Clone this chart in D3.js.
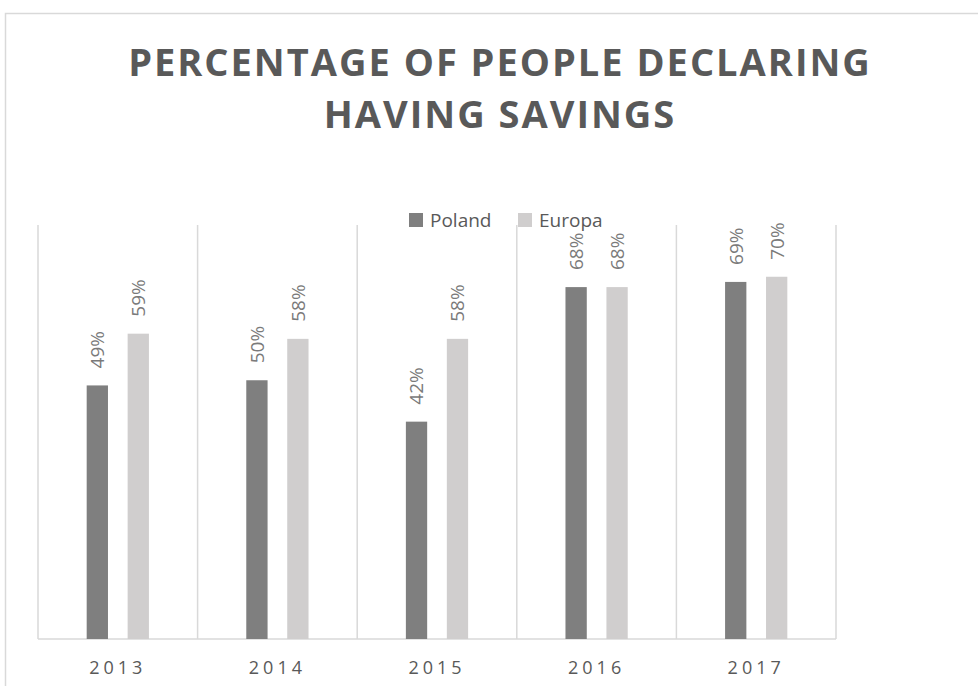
<!DOCTYPE html>
<html><head><meta charset="utf-8">
<script src="https://cdn.jsdelivr.net/npm/d3@7"></script>
<style>body{margin:0;background:#fff}svg{display:block}</style>
</head><body>
<svg id="c" width="978" height="686"></svg>
<script>
const categories = ["2013","2014","2015","2016","2017"];
const seriesNames = ["Poland","Europa"];
const poland = [49,50,42,68,69];
const europa = [59,58,58,68,70];
const titleLines = ["PERCENTAGE OF PEOPLE DECLARING","HAVING SAVINGS"];
const colors = {Poland:"#7f7f7f", Europa:"#d0cece"};

const svg = d3.select("#c");
const W=978,H=686;
const m={left:38,right:978-836,top:225,bottom:686-639};
const iw=W-m.left-m.right, ih=H-m.top-m.bottom;

svg.append("rect").attr("x",5.5).attr("y",13.5).attr("width",1000).attr("height",1000)
  .attr("fill","#fff").attr("stroke","#d9d9d9").attr("stroke-width",1.5);

const g=svg.append("g").attr("transform",`translate(${m.left},${m.top})`);
const x0=d3.scaleBand().domain(categories).range([0,iw]).padding(0);
const groupW=x0.bandwidth()*0.39;
const x1=d3.scaleBand().domain(seriesNames).range([0,groupW]).paddingInner(0.48);
const y=d3.scaleLinear().domain([0,80]).range([ih,0]);

const bounds=categories.map(c=>x0(c)).concat([iw]);
g.selectAll("line.grid").data(bounds).join("line").attr("class","grid")
  .attr("x1",d=>d).attr("x2",d=>d).attr("y1",0).attr("y2",ih)
  .attr("stroke","#d9d9d9").attr("stroke-width",1.5);
g.append("line").attr("x1",0).attr("x2",iw).attr("y1",ih).attr("y2",ih)
  .attr("stroke","#d9d9d9").attr("stroke-width",1.5);

const data=categories.map((c,i)=>({cat:c,vals:[{s:"Poland",v:poland[i]},{s:"Europa",v:europa[i]}]}));
const grp=g.selectAll("g.cat").data(data).join("g")
  .attr("transform",d=>`translate(${x0(d.cat)+(x0.bandwidth()-groupW)/2},0)`);
grp.selectAll("rect").data(d=>d.vals).join("rect")
  .attr("x",d=>x1(d.s)).attr("width",x1.bandwidth())
  .attr("y",d=>y(d.v)).attr("height",d=>ih-y(d.v)).attr("fill",d=>colors[d.s]);
grp.selectAll("text").data(d=>d.vals).join("text")
  .attr("transform",d=>`translate(${x1(d.s)+x1.bandwidth()/2},${y(d.v)-17}) rotate(-90)`)
  .attr("dy","0.36em").attr("text-anchor","start")
  .attr("font-family","Open Sans").attr("font-size",19).attr("fill","#7a7a7a")
  .text(d=>d.v+"%");

const xa=d3.axisBottom(x0).tickSize(0).tickPadding(0);
const ax=g.append("g").attr("transform",`translate(0,${ih})`).call(xa);
ax.select(".domain").remove();
ax.selectAll("text").attr("font-family","Open Sans").attr("font-size",18)
  .attr("fill","#595959").attr("letter-spacing","4px").attr("dy",null).attr("y",35)
  .attr("dx","0px");

const t=svg.append("text").attr("text-anchor","middle").attr("font-family","Open Sans")
  .attr("font-weight","bold").attr("font-size",38).attr("fill","#595959");
titleLines.forEach((l,i)=>t.append("tspan").attr("x",500).attr("y",76+i*52).attr("letter-spacing","2px").text(l));

const lg=svg.append("g");
const lx=[409,518];
seriesNames.forEach((s,i)=>{
  lg.append("rect").attr("x",lx[i]).attr("y",213).attr("width",14).attr("height",14).attr("fill",colors[s]);
  lg.append("text").attr("x",lx[i]+21).attr("y",227).attr("font-family","Open Sans")
    .attr("font-size",19).attr("fill","#595959").text(s);
});
</script>
</body></html>
